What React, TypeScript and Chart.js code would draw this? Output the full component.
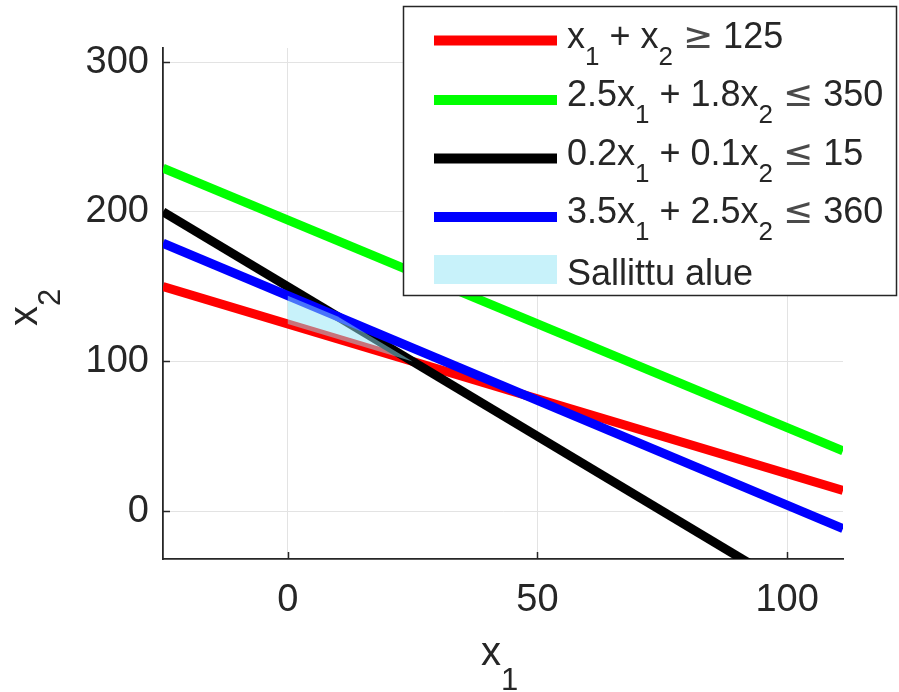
import React, { useEffect, useRef } from 'react';
import { Chart, registerables } from 'chart.js';

Chart.register(...registerables);

// ---- data ----
const X_MIN = -25;
const X_MAX = 111.2;
const Y_MIN = -32;
const Y_MAX = 309.5;

const xTicks = [0, 50, 100];
const yTicks = [0, 100, 200, 300];

// endpoints of the constraint lines (x1 values and x2 values)
const lineX = [-25, 111.2];
const redY = [150, 13.8];
const greenY = [229.2, 40.3];
const blackY = [200, -72.4];
const blueY = [179, -11.7];

// feasible region polygon
const regionX = [0, 0, 10, 25, 0];
const regionY = [125, 144, 130, 100, 125];

type Seg = { t: string; sub?: boolean; sym?: boolean };
const legendLabels: Seg[][] = [
  [{ t: 'x' }, { t: '1', sub: true }, { t: ' + x' }, { t: '2', sub: true }, { t: ' ' }, { t: '≥', sym: true }, { t: ' 125' }],
  [{ t: '2.5x' }, { t: '1', sub: true }, { t: ' + 1.8x' }, { t: '2', sub: true }, { t: ' ' }, { t: '≤', sym: true }, { t: ' 350' }],
  [{ t: '0.2x' }, { t: '1', sub: true }, { t: ' + 0.1x' }, { t: '2', sub: true }, { t: ' ' }, { t: '≤', sym: true }, { t: ' 15' }],
  [{ t: '3.5x' }, { t: '1', sub: true }, { t: ' + 2.5x' }, { t: '2', sub: true }, { t: ' ' }, { t: '≤', sym: true }, { t: ' 360' }],
  [{ t: 'Sallittu alue' }],
];
const seriesColors = ['#ff0000', '#00ff00', '#000000', '#0000ff'];
const regionColor = 'rgba(145,229,245,0.5)';

const xLabel: Seg[] = [{ t: 'x' }, { t: '1', sub: true }];
const yLabel: Seg[] = [{ t: 'x' }, { t: '2', sub: true }];

const FONT = '"Liberation Sans", Arial, Helvetica, sans-serif';
const SYM_FONT = '"DejaVu Sans", sans-serif';
const TEXT_COLOR = '#262626';

function drawRich(ctx: CanvasRenderingContext2D, segs: Seg[], x: number, y: number, mainPx: number, subPx: number, subDy: number) {
  let cx = x;
  const base = ctx.fillStyle;
  for (const s of segs) {
    if (s.sym) {
      ctx.font = `${mainPx}px ${SYM_FONT}`;
      ctx.fillStyle = '#4a4a4a';
    } else {
      ctx.font = `${s.sub ? subPx : mainPx}px ${FONT}`;
      ctx.fillStyle = base;
    }
    ctx.fillText(s.t, cx, y + (s.sub ? subDy : 0));
    cx += ctx.measureText(s.t).width;
  }
  ctx.fillStyle = base;
  return cx - x;
}

const inwardTicks = {
  id: 'inwardTicks',
  beforeDatasetsDraw(chart: any) {
    const { ctx, chartArea } = chart;
    const xs = chart.scales.x;
    const ys = chart.scales.y;
    ctx.save();
    ctx.strokeStyle = TEXT_COLOR;
    ctx.lineWidth = 1.5;
    ctx.beginPath();
    for (const v of xTicks) {
      const px = Math.round(xs.getPixelForValue(v)) + 0.5;
      ctx.moveTo(px, chartArea.bottom);
      ctx.lineTo(px, chartArea.bottom - 7);
    }
    for (const v of yTicks) {
      const py = Math.round(ys.getPixelForValue(v)) + 0.5;
      ctx.moveTo(chartArea.left, py);
      ctx.lineTo(chartArea.left + 7, py);
    }
    ctx.stroke();
    ctx.restore();
  },
};

const labelsAndLegend = {
  id: 'labelsAndLegend',
  afterDraw(chart: any) {
    const ctx: CanvasRenderingContext2D = chart.ctx;
    ctx.save();
    ctx.fillStyle = TEXT_COLOR;
    ctx.textBaseline = 'alphabetic';
    ctx.textAlign = 'left';

    // x axis label
    drawRich(ctx, xLabel, 481, 665, 40, 31, 25);

    // y axis label (rotated)
    ctx.save();
    ctx.translate(37, 326);
    ctx.rotate(-Math.PI / 2);
    drawRich(ctx, yLabel, 0, 0, 40, 31, 23);
    ctx.restore();

    // legend box
    const bx = 403.5, by = 6.5, bw = 493, bh = 289;
    ctx.fillStyle = '#ffffff';
    ctx.fillRect(bx, by, bw, bh);
    ctx.strokeStyle = TEXT_COLOR;
    ctx.lineWidth = 1.5;
    ctx.strokeRect(bx, by, bw, bh);

    const lineYs = [40.5, 100, 158.5, 217];
    const baselines = [48, 106, 165, 223, 285];
    for (let i = 0; i < 4; i++) {
      ctx.strokeStyle = seriesColors[i];
      ctx.lineWidth = 10;
      ctx.lineCap = 'butt';
      ctx.beginPath();
      ctx.moveTo(434, lineYs[i]);
      ctx.lineTo(557, lineYs[i]);
      ctx.stroke();
    }
    ctx.fillStyle = regionColor;
    ctx.fillRect(434, 255, 123, 29);

    ctx.fillStyle = TEXT_COLOR;
    for (let i = 0; i < legendLabels.length; i++) {
      drawRich(ctx, legendLabels[i], 567, baselines[i], 36, 26, 17);
    }
    ctx.restore();
  },
};

export default function App() {
  const ref = useRef<HTMLCanvasElement | null>(null);

  useEffect(() => {
    if (!ref.current) return;
    const mk = (ys: number[]) => lineX.map((x, i) => ({ x, y: ys[i] }));
    const lineDs = (ys: number[], color: string, order: number) => ({
      data: mk(ys),
      borderColor: color,
      backgroundColor: color,
      borderWidth: 9,
      pointRadius: 0,
      fill: false,
      tension: 0,
      order,
    });
    const chart = new Chart(ref.current, {
      type: 'line',
      data: {
        datasets: [
          {
            data: regionX.map((x, i) => ({ x, y: regionY[i] })),
            borderColor: 'rgba(0,0,0,0)',
            backgroundColor: regionColor,
            borderWidth: 0,
            pointRadius: 0,
            fill: 'shape',
            tension: 0,
            order: 0,
          } as any,
          lineDs(blueY, seriesColors[3], 1),
          lineDs(blackY, seriesColors[2], 2),
          lineDs(greenY, seriesColors[1], 3),
          lineDs(redY, seriesColors[0], 4),
        ],
      },
      options: {
        responsive: false,
        animation: false,
        events: [],
        layout: { padding: { left: 0, right: 56, top: 48, bottom: 0 } },
        plugins: {
          legend: { display: false },
          tooltip: { enabled: false },
          title: { display: false },
        },
        scales: {
          x: {
            type: 'linear',
            min: X_MIN,
            max: X_MAX,
            afterBuildTicks: (s: any) => {
              s.ticks = xTicks.map((v) => ({ value: v }));
            },
            afterFit: (s: any) => {
              s.height = 133;
            },
            grid: { color: '#e3e3e3', lineWidth: 1, drawTicks: false },
            border: { display: true, color: TEXT_COLOR, width: 1.8 },
            ticks: {
              padding: 19,
              color: TEXT_COLOR,
              font: { family: FONT, size: 38 },
              maxRotation: 0,
              autoSkip: false,
            },
          },
          y: {
            type: 'linear',
            min: Y_MIN,
            max: Y_MAX,
            afterBuildTicks: (s: any) => {
              s.ticks = yTicks.map((v) => ({ value: v }));
            },
            afterFit: (s: any) => {
              s.width = 163;
            },
            grid: { color: '#e3e3e3', lineWidth: 1, drawTicks: false },
            border: { display: true, color: TEXT_COLOR, width: 1.8 },
            ticks: {
              padding: 14,
              color: TEXT_COLOR,
              font: { family: FONT, size: 38 },
              autoSkip: false,
            },
          },
        },
      },
      plugins: [inwardTicks, labelsAndLegend],
    });
    return () => chart.destroy();
  }, []);

  return (
    <div style={{ position: 'fixed', left: 0, top: 0, width: 899, height: 692, background: '#ffffff' }}>
      <canvas ref={ref} width={899} height={692} style={{ display: 'block', width: 899, height: 692 }} />
    </div>
  );
}
